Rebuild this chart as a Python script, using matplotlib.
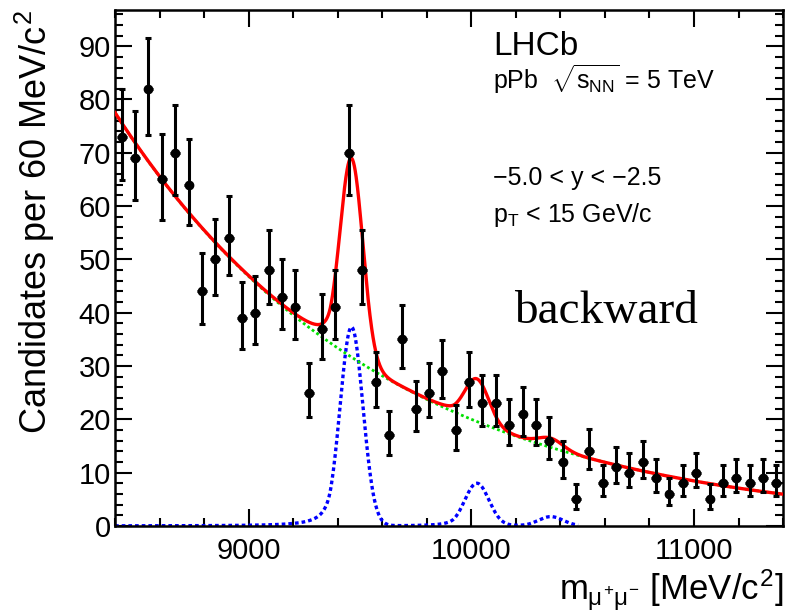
import numpy as np
import matplotlib.pyplot as plt
from matplotlib.ticker import MultipleLocator

plt.rcParams['font.family'] = ['Liberation Sans', 'DejaVu Sans']
plt.rcParams['mathtext.fontset'] = 'custom'
plt.rcParams['mathtext.rm'] = 'Liberation Sans'
plt.rcParams['mathtext.it'] = 'Liberation Sans'
plt.rcParams['mathtext.bf'] = 'Liberation Sans:bold'

# dimuon candidates in 60 MeV bins, 8400-11400 MeV
bin_lo = 8400
bin_width = 60
counts = [73, 69, 82, 65, 70, 64, 44, 50, 54, 39,
          40, 48, 43, 41, 25, 37, 41, 70, 48, 27,
          17, 35, 22, 25, 29, 18, 27, 23, 23, 19,
          21, 19, 16, 12, 5, 14, 8, 11, 10, 12,
          9, 6, 8, 10, 5, 8, 9, 8, 9, 8]

# fit model: exponential background + three Crystal Ball peaks
bkg_norm = 77.5       # candidates at 8400 MeV
bkg_slope = -0.836    # per GeV
bkg_curv = -0.0064    # per GeV^2
peak_mass = [9462, 10025, 10357]
peak_height = [37.3, 8.0, 1.75]
sigma_1s = 51.0
cb_alpha = 1.8
cb_n = 2.0

counts = np.array(counts, dtype=float)
centers = bin_lo + bin_width * (np.arange(len(counts)) + 0.5)
err_lo = np.sqrt(counts + 0.25) - 0.5
err_hi = np.sqrt(counts + 0.25) + 0.5


def crystal_ball(x, mu, sigma, alpha, n):
    t = (x - mu) / sigma
    out = np.exp(-0.5 * t ** 2)
    a = (n / alpha) ** n * np.exp(-0.5 * alpha ** 2)
    b = n / alpha - alpha
    tail = t < -alpha
    out[tail] = a * (b - t[tail]) ** (-n)
    return out


xs = np.linspace(8400, 11400, 1500)
tg = (xs - 8400) / 1000.0
bkg = bkg_norm * np.exp(bkg_slope * tg + bkg_curv * tg ** 2)
sig = np.zeros_like(xs)
for m, h in zip(peak_mass, peak_height):
    sig += h * crystal_ball(xs, m, sigma_1s * m / peak_mass[0], cb_alpha, cb_n)
total = bkg + sig

fig = plt.figure(figsize=(7.88, 6.13), dpi=100)
ax = fig.add_axes([0.146, 0.142, 0.8477, 0.8418])

sig_range = xs <= 10480
ax.plot(xs[sig_range], sig[sig_range], color='#0000ff', lw=2.4,
        linestyle=(0, (1.1, 0.9)), zorder=2)
ax.plot(xs, bkg, color='#00e000', lw=2.0, linestyle=(0, (1, 1)), zorder=2)
ax.plot(xs, total, color='#ff0000', lw=2.4, zorder=3)

ax.errorbar(centers, counts, yerr=[err_lo, err_hi], fmt='none', ecolor='black',
            elinewidth=2.2, capsize=2.4, capthick=2.2, zorder=4)
ax.errorbar(centers, counts, xerr=22, fmt='o', color='black', ms=6,
            elinewidth=2.2, capsize=0, zorder=5)

ax.set_xlim(8400, 11400)
ax.set_ylim(0, 96.8)
ax.xaxis.set_major_locator(MultipleLocator(1000))
ax.xaxis.set_minor_locator(MultipleLocator(200))
ax.yaxis.set_major_locator(MultipleLocator(10))
ax.yaxis.set_minor_locator(MultipleLocator(2))
ax.tick_params(which='both', direction='in', top=True, right=True, width=1.5)
ax.tick_params(which='major', length=12)
ax.tick_params(which='minor', length=6)
ax.tick_params(axis='x', labelsize=21, pad=8)
ax.tick_params(axis='y', labelsize=21, pad=3)
for s in ax.spines.values():
    s.set_linewidth(1.8)

ax.set_ylabel('Candidates per 60 MeV/$c^{2}$', fontsize=26, loc='top')
ax.yaxis.set_label_coords(-0.087, 1.0)
ax.set_xlabel(r'$m_{\mu^{+}\mu^{-}}$ [MeV/$c^{2}$]', fontsize=25, loc='right')
ax.xaxis.set_label_coords(1.0, -0.08)

tx = 0.566
ax.text(tx, 0.912, 'LHCb', transform=ax.transAxes, fontsize=24)
ax.text(tx, 0.847, r'pPb  $\sqrt{s_{\mathrm{NN}}}$ = 5 TeV', transform=ax.transAxes,
        fontsize=18)
ax.text(tx, 0.661, '\u22125.0 < y < \u22122.5', transform=ax.transAxes, fontsize=18)
ax.text(tx, 0.589, r'p$_{\mathrm{T}}$ < 15 GeV/c', transform=ax.transAxes, fontsize=18)
ax.text(0.597, 0.393, 'backward', transform=ax.transAxes, fontsize=34,
        family='Liberation Serif')

fig.savefig('out.png', dpi=100)
